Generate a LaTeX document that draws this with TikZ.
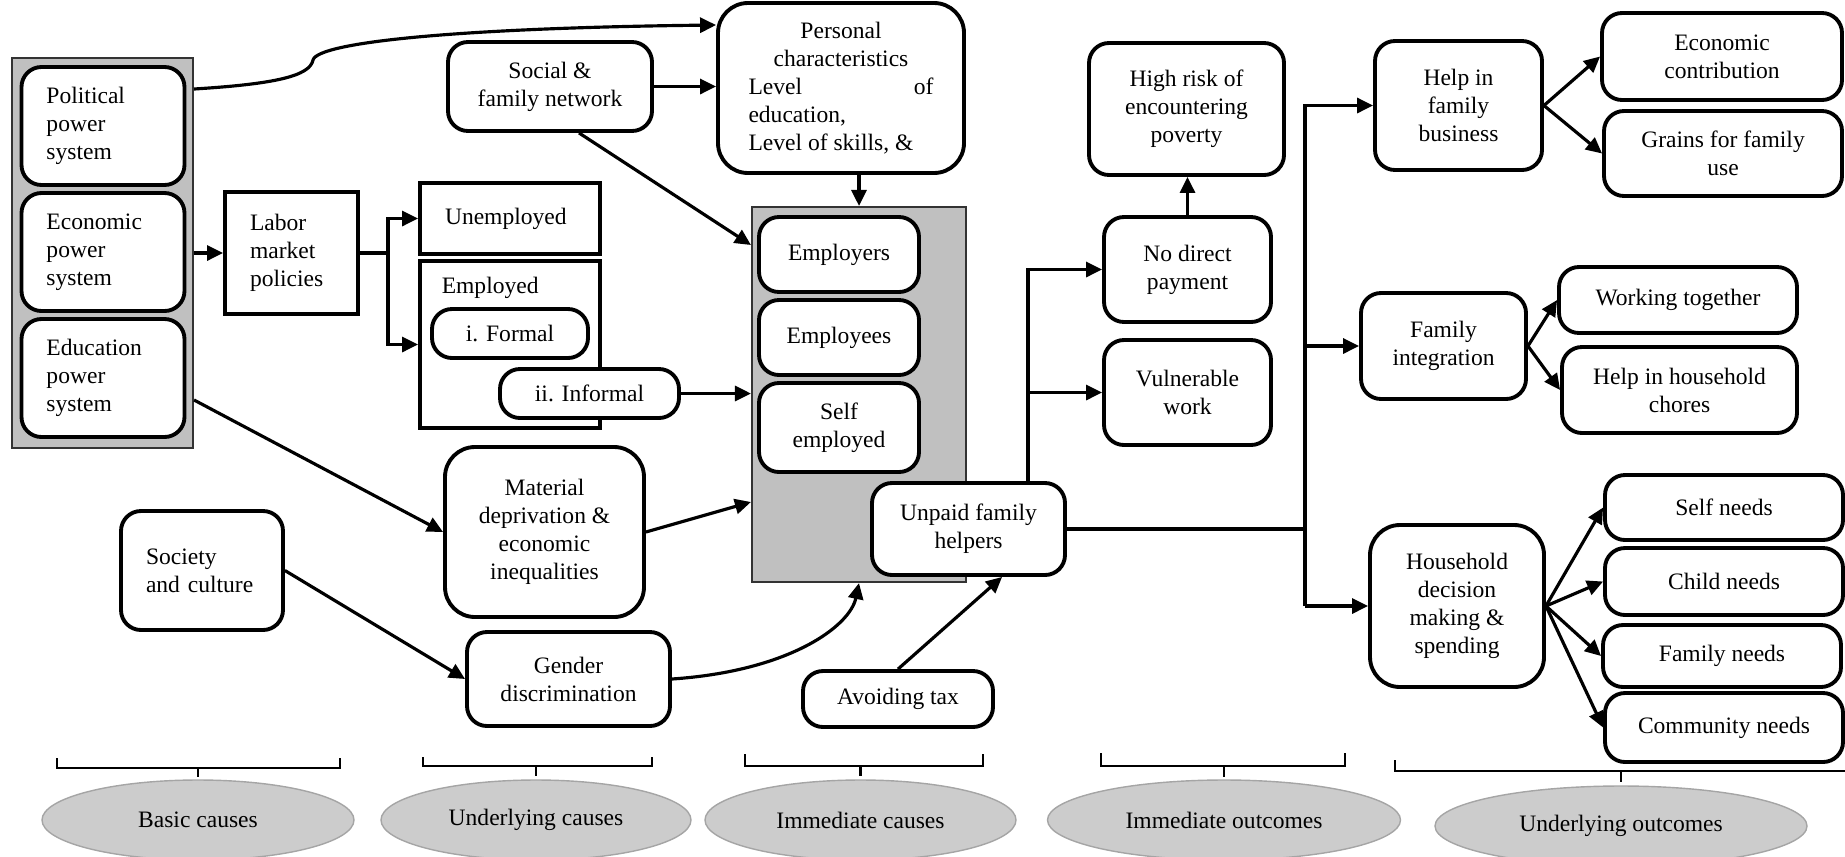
\documentclass[tikz,border=0pt]{standalone}
\usepackage{fontspec}
\setmainfont{Liberation Serif}
\usepackage{xcolor}
\definecolor{panelgray}{RGB}{192,192,192}
\definecolor{phasegray}{RGB}{204,204,204}
\definecolor{phaseedge}{RGB}{165,165,165}
\usetikzlibrary{arrows.meta, shapes.geometric}

\tikzset{
  rbox/.style={draw, line width=1.1pt, rounded corners=2mm, fill=white, align=center, inner sep=1pt},
  sqbox/.style={draw, line width=1.1pt, fill=white, inner sep=1pt},
  panel/.style={draw=black!80, line width=0.6pt, fill=panelgray},
  leftpad/.style={align=left, text width=#1, inner xsep=0.25cm},
  arr/.style={-{Triangle[length=1.6mm, width=1.5mm]}, line width=0.9pt},
  link/.style={line width=0.9pt},
  brk/.style={line width=0.7pt},
  phase/.style={ellipse, draw=phaseedge, line width=0.4pt, fill=phasegray, minimum height=0.8cm}
}

\begin{document}
\begin{tikzpicture}[font=\fontsize{6.7}{8}\selectfont]
  \useasboundingbox (0,0) rectangle (18.45,8.56);

  % --- Basic causes ---
  \node[panel, minimum width=1.81cm, minimum height=3.90cm] (gray1) at (1.025,6.03) {};
  \node[rbox, leftpad=1.13cm, minimum width=1.63cm, minimum height=1.18cm] (pol) at (1.03,7.30) {Political\\power\\system};
  \node[rbox, leftpad=1.13cm, minimum width=1.63cm, minimum height=1.18cm] (eco) at (1.03,6.04) {Economic\\power\\system};
  \node[rbox, leftpad=1.13cm, minimum width=1.63cm, minimum height=1.18cm] (edu) at (1.03,4.78) {Education\\power\\system};
  \node[rbox, leftpad=1.12cm, minimum width=1.62cm, minimum height=1.19cm] (society) at (2.02,2.855) {Society\\and culture};

  % --- Underlying causes ---
  \node[sqbox, leftpad=0.83cm, minimum width=1.33cm, minimum height=1.22cm] (labor) at (2.915,6.03) {Labor\\market\\policies};
  \node[sqbox, leftpad=1.30cm, minimum width=1.80cm, minimum height=0.71cm] (unemp) at (5.10,6.375) {Unemployed};
  \node[sqbox, minimum width=1.80cm, minimum height=1.67cm] (employed) at (5.10,5.115) {};
  \node[anchor=west, inner sep=0pt] (emptxt) at ([shift={(0.23,-0.29)}]employed.north west) {Employed};
  \node[rbox, minimum width=1.56cm, minimum height=0.49cm] (formal) at (5.10,5.225) {i. Formal};
  \node[rbox, minimum width=1.79cm, minimum height=0.49cm] (informal) at (5.895,4.625) {ii. Informal};
  \node[rbox, minimum width=2.04cm, minimum height=0.89cm] (social) at (5.50,7.695) {Social \&\\family network};
  \node[rbox, minimum width=1.99cm, minimum height=1.70cm, rounded corners=3mm] (material) at (5.445,3.24) {Material\\deprivation \&\\economic\\inequalities};
  \node[rbox, minimum width=2.03cm, minimum height=0.94cm] (gender) at (5.685,1.77) {Gender\\discrimination};

  % --- Immediate causes ---
  \node[rbox, minimum width=2.46cm, minimum height=1.70cm, rounded corners=3mm] (pers) at (8.41,7.68)
    {Personal\\characteristics\\\makebox[1.85cm][s]{Level\hfill of}\\\makebox[1.85cm][l]{education,}\\\makebox[1.85cm][l]{Level of skills, \&}};
  \node[panel, minimum width=2.14cm, minimum height=3.75cm] (gray2) at (8.59,4.615) {};
  \node[rbox, minimum width=1.60cm, minimum height=0.75cm] (employers) at (8.39,6.015) {Employers};
  \node[rbox, minimum width=1.60cm, minimum height=0.75cm] (employees) at (8.39,5.185) {Employees};
  \node[rbox, minimum width=1.60cm, minimum height=0.89cm] (selfemp) at (8.39,4.285) {Self\\employed};
  \node[rbox, minimum width=1.93cm, minimum height=0.92cm] (unpaid) at (9.685,3.27) {Unpaid family\\helpers};
  \node[rbox, minimum width=1.90cm, minimum height=0.56cm] (avoid) at (8.98,1.57) {Avoiding tax};

  % --- Immediate outcomes ---
  \node[rbox, minimum width=1.95cm, minimum height=1.32cm] (highrisk) at (11.865,7.47) {High risk of\\encountering\\poverty};
  \node[rbox, minimum width=1.67cm, minimum height=1.05cm] (nodirect) at (11.875,5.865) {No direct\\payment};
  \node[rbox, minimum width=1.67cm, minimum height=1.05cm] (vulner) at (11.875,4.635) {Vulnerable\\work};

  % --- Underlying outcomes ---
  \node[rbox, minimum width=1.67cm, minimum height=1.29cm] (helpbiz) at (14.585,7.505) {Help in\\family\\business};
  \node[rbox, minimum width=2.40cm, minimum height=0.87cm] (econ) at (17.22,7.995) {Economic\\contribution};
  \node[rbox, minimum width=2.38cm, minimum height=0.85cm] (grains) at (17.23,7.025) {Grains for family\\use};
  \node[rbox, minimum width=1.65cm, minimum height=1.06cm] (famint) at (14.435,5.10) {Family\\integration};
  \node[rbox, minimum width=2.38cm, minimum height=0.66cm] (worktog) at (16.78,5.56) {Working together};
  \node[rbox, minimum width=2.35cm, minimum height=0.86cm] (chores) at (16.795,4.66) {Help in household\\chores};
  \node[rbox, minimum width=1.74cm, minimum height=1.62cm, rounded corners=3mm] (household) at (14.57,2.50) {Household\\decision\\making \&\\spending};
  \node[rbox, minimum width=2.38cm, minimum height=0.65cm] (selfneeds) at (17.24,3.485) {Self needs};
  \node[rbox, minimum width=2.38cm, minimum height=0.67cm] (childneeds) at (17.24,2.745) {Child needs};
  \node[rbox, minimum width=2.38cm, minimum height=0.62cm] (familyneeds) at (17.22,2.00) {Family needs};
  \node[rbox, minimum width=2.38cm, minimum height=0.69cm] (commneeds) at (17.24,1.285) {Community needs};

  % --- Phase labels ---
  \node[phase, minimum width=3.12cm] (basic) at (1.98,0.36) {Basic causes};
  \node[phase, minimum width=3.10cm] (undcause) at (5.36,0.36) {Underlying causes};
  \node[phase, minimum width=3.11cm] (immcause) at (8.605,0.36) {Immediate causes};
  \node[phase, minimum width=3.53cm] (immout) at (12.24,0.36) {Immediate outcomes};
  \node[phase, minimum width=3.72cm] (undout) at (16.21,0.30) {Underlying outcomes};

  % Brackets above phases
  \draw[brk] (0.57,0.98) |- (3.40,0.88) -- (3.40,0.98);
  \draw[brk] (basic.north |- 0,0.88) -- ++(0,-0.09);
  \draw[brk] (4.23,0.99) |- (6.52,0.90) -- (6.52,0.99);
  \draw[brk] (undcause.north |- 0,0.90) -- ++(0,-0.10);
  \draw[brk] (7.45,1.02) |- (9.83,0.90) -- (9.83,1.02);
  \draw[brk] (immcause.north |- 0,0.90) -- ++(0,-0.10);
  \draw[brk] (11.01,1.03) |- (13.45,0.90) -- (13.45,1.03);
  \draw[brk] (immout.north |- 0,0.90) -- ++(0,-0.11);
  \draw[brk] (13.95,0.96) |- (18.45,0.85);
  \draw[brk] (undout.north |- 0,0.85) -- ++(0,-0.11);

  % --- Connectors: causes ---
  \draw[arr] (gray1.east |- 0,7.67) .. controls (2.75,7.72) and (3.10,7.80) .. (3.13,7.96)
    .. controls (3.18,8.14) and (4.60,8.28) .. (pers.west |- 0,8.31);
  \draw[arr] (social.east) -- (social.east -| pers.west);
  \draw[arr] (social.-58) -- (gray2.west |- 0,6.11);
  \draw[arr] (gray2.north |- pers.south) -- (gray2.north);
  \draw[arr] (gray1.east |- labor.west) -- (labor.west);
  \draw[arr] (labor.east) -- ++(0.28,0) coordinate (lsplit) |- (unemp.west);
  \draw[arr] (lsplit) |- (employed.west);
  \draw[arr] (informal.east) -- (informal.east -| gray2.west);
  \draw[arr] (gray1.east |- 0,4.56) -- (material.west);
  \draw[arr] (material.east) -- (gray2.west |- 0,3.54);
  \draw[arr] (society.east) -- (gender.west);
  \draw[arr] (gender.east) .. controls (7.90,1.85) and (8.50,2.30) .. (gray2.south);
  \draw[arr] (avoid.north) -- (unpaid.-55);

  % --- Connectors: outcomes ---
  \draw[arr] (unpaid.north -| 10.28,0) |- (nodirect.west);
  \draw[arr] (10.28,0 |- vulner.west) -- (vulner.west);
  \draw[arr] (nodirect.north) -- (nodirect.north |- highrisk.south);
  \draw[link] (unpaid.east) -- (unpaid.east -| 13.05,0);
  \draw[arr] (13.05,0 |- household.west) |- (helpbiz.west);
  \draw[arr] (13.05,0 |- famint.west) -- (famint.west);
  \draw[arr] (13.05,0 |- household.west) -- (household.west);
  \draw[arr] (helpbiz.east) -- (econ.west);
  \draw[arr] (helpbiz.east) -- (grains.west);
  \draw[arr] (famint.east) -- (worktog.west);
  \draw[arr] (famint.east) -- (chores.west);
  \draw[arr] (household.east) -- (selfneeds.west);
  \draw[arr] (household.east) -- (childneeds.west);
  \draw[arr] (household.east) -- (familyneeds.west);
  \draw[arr] (household.east) -- (commneeds.west);
\end{tikzpicture}
\end{document}
